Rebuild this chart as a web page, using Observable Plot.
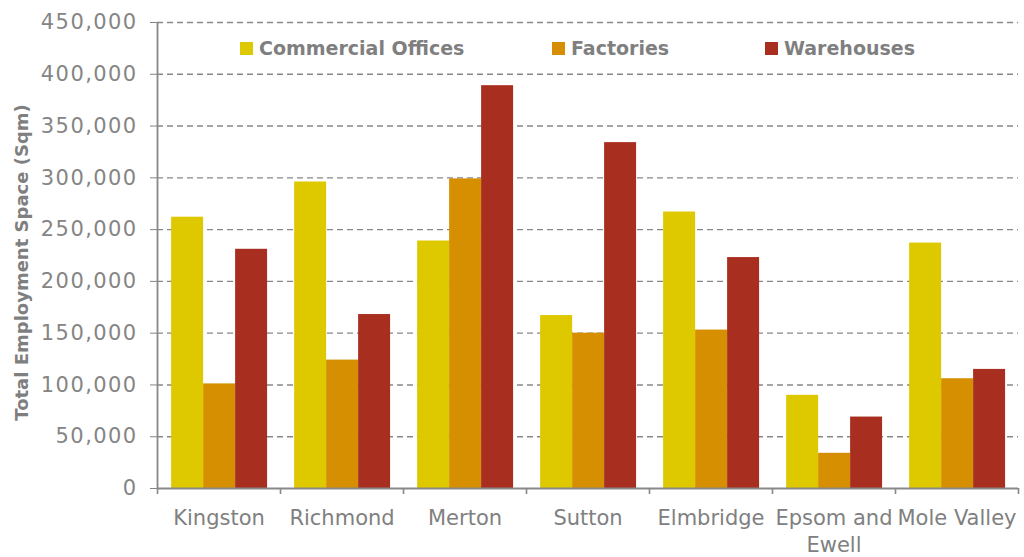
<!DOCTYPE html>
<html>
<head>
<meta charset="utf-8">
<script src="https://cdn.jsdelivr.net/npm/d3@7"></script>
<script src="https://cdn.jsdelivr.net/npm/@observablehq/plot@0.6"></script>
<style>
  html, body { margin: 0; padding: 0; background: #fff; }
  #wrap { position: relative; width: 1024px; height: 557px; font-family: "DejaVu Sans", sans-serif; }
  #legend { position: absolute; left: 0; top: 37px; width: 1024px; height: 22px;
            font-weight: bold; font-size: 19px; color: #7f7f7f; }
  #legend .item { position: absolute; top: 0; display: flex; align-items: center; white-space: nowrap; }
  #legend .sw { width: 13px; height: 13px; margin-right: 6px; }
  g[aria-label="y-axis tick label"] text { letter-spacing: 1.4px; }
</style>
</head>
<body>
<div id="wrap"><div id="legend"></div></div>
<script>
const categories = ["Kingston", "Richmond", "Merton", "Sutton", "Elmbridge", "Epsom and Ewell", "Mole Valley"];
const categoryLabels = ["Kingston", "Richmond", "Merton", "Sutton", "Elmbridge", "Epsom and\nEwell", "Mole Valley"];
const seriesNames = ["Commercial Offices", "Factories", "Warehouses"];
const offices    = [262000, 296000, 239000, 167000, 267000, 90000, 237000];
const factories  = [101000, 124000, 299000, 150000, 153000, 34000, 106000];
const warehouses = [231000, 168000, 389000, 334000, 223000, 69000, 115000];
const yTicks = [0, 50000, 100000, 150000, 200000, 250000, 300000, 350000, 400000, 450000];
const colors = ["#dec800", "#d68f00", "#a82f1f"];
const yTitle = "Total Employment Space (Sqm)";

const seriesValues = [offices, factories, warehouses];
const data = [];
categories.forEach((c, ci) => {
  seriesNames.forEach((s, si) => {
    data.push({category: c, ci, series: s, si, value: seriesValues[si][ci]});
  });
});

// layout fractions within each category slot
const groupPad = 0.115, barFrac = 0.26;

const chart = Plot.plot({
  width: 1024,
  height: 557,
  marginLeft: 157,
  marginRight: 6,
  marginTop: 22,
  marginBottom: 69,
  style: {fontFamily: "DejaVu Sans, sans-serif", background: "transparent"},
  x: {domain: [0, categories.length], label: null},
  y: {domain: [0, 450000], label: null},
  color: {domain: seriesNames, range: colors},
  marks: [
    Plot.gridY({ticks: yTicks.filter(d => d > 0), stroke: "#888", strokeOpacity: 1, strokeWidth: 1.4, strokeDasharray: "6,4"}),
    Plot.rectY(data, {
      x1: d => d.ci + groupPad + d.si * barFrac,
      x2: d => d.ci + groupPad + (d.si + 1) * barFrac,
      y1: 0,
      y2: "value",
      fill: "series"
    }),
    Plot.ruleX([0], {stroke: "#888", strokeWidth: 1.8}),
    Plot.ruleY([0], {stroke: "#888", strokeWidth: 1.8}),
    Plot.axisY({ticks: yTicks, tickSize: 7, tickPadding: 13, tickFormat: d3.format(","), fontSize: 21, color: "#858585", label: null}),
    Plot.axisX({ticks: d3.range(categories.length + 1), tickSize: 6, tickFormat: () => "", color: "#888", label: null, strokeWidth: 1.6}),
    Plot.axisX({ticks: categories.map((_, i) => i + 0.5), tickSize: 0, tickPadding: 17, tickFormat: v => categoryLabels[Math.floor(v)], fontSize: 21, color: "#808080", lineHeight: 1.3, label: null}),
    Plot.text([yTitle], {frameAnchor: "left", textAnchor: "middle", rotate: -90, dx: -135, dy: 7, fontWeight: "bold", fontSize: 18, fill: "#7f7f7f", text: d => d})
  ]
});

document.getElementById("wrap").prepend(chart);

const legend = document.getElementById("legend");
const legendLeft = [240, 552, 765];
seriesNames.forEach((s, i) => {
  const item = document.createElement("div");
  item.className = "item";
  item.style.left = legendLeft[i] + "px";
  const sw = document.createElement("span");
  sw.className = "sw";
  sw.style.background = colors[i];
  const t = document.createElement("span");
  t.textContent = s;
  item.append(sw, t);
  legend.append(item);
});
</script>
</body>
</html>
